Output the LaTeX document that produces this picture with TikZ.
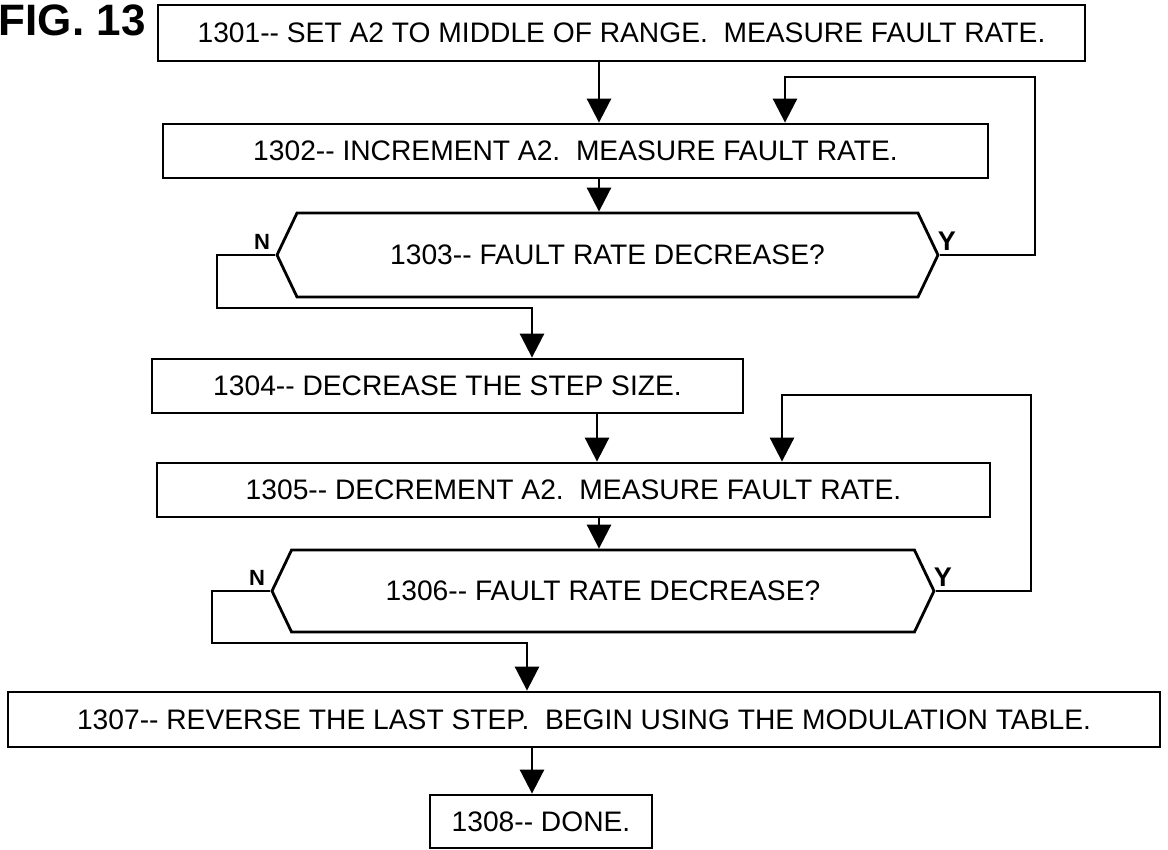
\documentclass[tikz,border=0pt]{standalone}
\usepackage{fontspec}
\setmainfont{Liberation Sans}
\usetikzlibrary{arrows.meta,shapes.symbols}
\begin{document}
\begin{tikzpicture}[x=1pt,y=-1pt,line width=2.8pt,
  box/.style={draw,rectangle,inner sep=0pt,font=\fontsize{28.2}{32}\selectfont},
  hex/.style={draw,signal,signal to=west and east,signal pointer angle=129,inner sep=0pt,font=\fontsize{28.2}{32}\selectfont},
  arr/.style={-{Triangle[width=24pt,length=24pt]}},
  nlab/.style={font=\bfseries\fontsize{22}{24}\selectfont,inner sep=0pt},
  ylab/.style={font=\bfseries\fontsize{27}{30}\selectfont,inner sep=0pt},
  fig/.style={font=\bfseries\fontsize{44}{48}\selectfont,inner sep=0pt}]
\useasboundingbox (0,0) rectangle (1168,850);
\node[fig,anchor=north east] (fig) at (147,3) {FIG. 13};
\node[box,minimum width=927pt,minimum height=56pt] (b1301) at (621.5,33) {1301-{}- SET A2 TO MIDDLE OF RANGE.\ \ MEASURE FAULT RATE.};
\node[box,minimum width=825pt,minimum height=54pt] (b1302) at (575.5,151) {1302-{}- INCREMENT A2.\ \ MEASURE FAULT RATE.};
\node[hex,minimum width=661pt,minimum height=84pt] (b1303) at (607.5,255) {1303-{}- FAULT RATE DECREASE?};
\node[box,minimum width=591pt,minimum height=54pt] (b1304) at (447.5,386) {1304-{}- DECREASE THE STEP SIZE.};
\node[box,minimum width=833pt,minimum height=54pt] (b1305) at (573.5,490) {1305-{}- DECREMENT A2.\ \ MEASURE FAULT RATE.};
\node[hex,minimum width=662pt,minimum height=82pt] (b1306) at (603,591) {1306-{}- FAULT RATE DECREASE?};
\node[box,minimum width=1152pt,minimum height=55pt] (b1307) at (584,719.5) {1307-{}- REVERSE THE LAST STEP.\ \ BEGIN USING THE MODULATION TABLE.};
\node[box,minimum width=222pt,minimum height=53pt] (b1308) at (541,821.5) {1308-{}- DONE.};
\node[nlab,anchor=south east] (n1) at ([xshift=-4pt,yshift=4pt]b1303.west) {N};
\node[ylab,anchor=south west] (y1) at ([xshift=-3pt,yshift=3pt]b1303.east) {Y};
\node[nlab,anchor=south east] (n2) at ([xshift=-4pt,yshift=4pt]b1306.west) {N};
\node[ylab,anchor=south west] (y2) at ([xshift=-3pt,yshift=3pt]b1306.east) {Y};
\coordinate (xa) at (599,0);
\coordinate (xb) at (785,0);
\coordinate (xc) at (532,0);
\coordinate (xd) at (597,0);
\coordinate (xe) at (782,0);
\coordinate (xf) at (527,0);
\coordinate (la) at (1035,77);
\coordinate (lb) at (217,308);
\coordinate (lc) at (1031,395);
\coordinate (ld) at (212,643);
\draw[arr] (b1301.south -| xa) -- (b1302.north -| xa);
\draw[arr] (b1302.south -| xa) -- (b1303.north -| xa);
\draw[arr] (b1303.east) -| (la) -| (b1302.north -| xb);
\draw[arr] (b1303.west) -| (lb) -| (b1304.north -| xc);
\draw[arr] (b1304.south -| xd) -- (b1305.north -| xd);
\draw[arr] (b1305.south -| xa) -- (b1306.north -| xa);
\draw[arr] (b1306.east) -| (lc) -| (b1305.north -| xe);
\draw[arr] (b1306.west) -| (ld) -| (b1307.north -| xf);
\draw[arr] (b1307.south -| xc) -- (b1308.north -| xc);
\end{tikzpicture}
\end{document}
